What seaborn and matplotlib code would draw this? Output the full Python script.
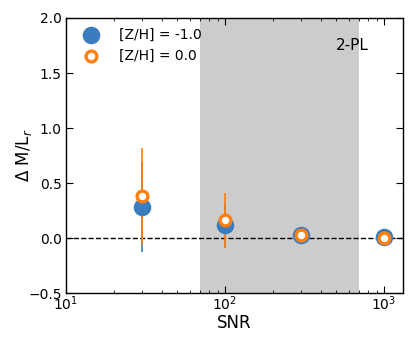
import matplotlib
matplotlib.use("Agg")
import matplotlib.pyplot as plt
import seaborn as sns
import pandas as pd
import numpy as np

# values
snr = [30, 100, 300, 1000]
dml_metal_poor = [0.28, 0.12, 0.03, 0.01]     # [Z/H] = -1.0
err_metal_poor = [0.41, 0.20, 0.03, 0.02]
dml_solar = [0.38, 0.16, 0.03, 0.00]          # [Z/H] = 0.0
err_solar = [0.44, 0.25, 0.03, 0.02]
shade_range = [70, 700]
panel_label = "2-PL"

blue = "#3a7dbf"
orange = "#ff7f0e"

sns.set_style("white")
plt.rcParams.update({
    "xtick.direction": "in", "ytick.direction": "in",
    "xtick.bottom": True, "ytick.left": True,
    "xtick.top": True, "ytick.right": True,
    "xtick.minor.bottom": True, "xtick.minor.top": True,
    "xtick.major.size": 5, "ytick.major.size": 5,
    "xtick.minor.size": 2.5, "xtick.minor.visible": True,
    "xtick.major.pad": 1.0, "ytick.major.pad": 3.0,
    "xtick.color": "black", "ytick.color": "black",
    "text.color": "black", "axes.labelcolor": "black",
    "axes.edgecolor": "black", "axes.linewidth": 1.0,
})
plt.rcParams["font.family"] = ["DejaVu Sans"]

df = pd.DataFrame({
    "snr": snr * 2,
    "dml": dml_metal_poor + dml_solar,
    "err": err_metal_poor + err_solar,
    "zh": ["[Z/H] = -1.0"] * len(snr) + ["[Z/H] = 0.0"] * len(snr),
})

fig = plt.figure(figsize=(4.15, 3.46), dpi=100)
ax = fig.add_axes([0.159, 0.153, 0.812, 0.795])

ax.axvspan(*shade_range, color="#cccccc", lw=0, zorder=0)
ax.axhline(0, color="black", ls="--", lw=1, zorder=1)

# error bars first
ax.errorbar(snr, dml_metal_poor, yerr=err_metal_poor, fmt="none",
            ecolor=blue, elinewidth=1.2, zorder=2)
ax.errorbar(snr, dml_solar, yerr=err_solar, fmt="none",
            ecolor=orange, elinewidth=1.2, zorder=3)

sub = df[df["zh"] == "[Z/H] = -1.0"]
sns.scatterplot(data=sub, x="snr", y="dml", ax=ax, color=blue, s=160,
                edgecolor=blue, linewidth=0, zorder=4, label="[Z/H] = -1.0")
sub = df[df["zh"] == "[Z/H] = 0.0"]
sns.scatterplot(data=sub, x="snr", y="dml", ax=ax, color="white", s=60,
                edgecolor=orange, linewidth=2.4, zorder=5, label="[Z/H] = 0.0")

ax.set_xscale("log")
ax.set_xlim(10, 1320)
ax.set_ylim(-0.5, 2.0)
ax.set_yticks(np.arange(-0.5, 2.01, 0.5))
ax.tick_params(labelsize=10)
ax.set_xlabel("SNR", fontsize=12, va="center")
ax.set_ylabel(r"$\Delta$ M/L$_r$", fontsize=12, va="center")
ax.xaxis.set_label_coords(0.5, -0.11)
ax.yaxis.set_label_coords(-0.125, 0.5)

ax.text(0.85, 0.9, panel_label, transform=ax.transAxes, fontsize=11,
        ha="center", va="center")

leg = ax.legend(loc="upper left", frameon=False, fontsize=10,
                handlelength=2.2, handletextpad=0.9,
                borderaxespad=0.3, labelspacing=0.5)

fig.savefig("out.png", dpi=100)
